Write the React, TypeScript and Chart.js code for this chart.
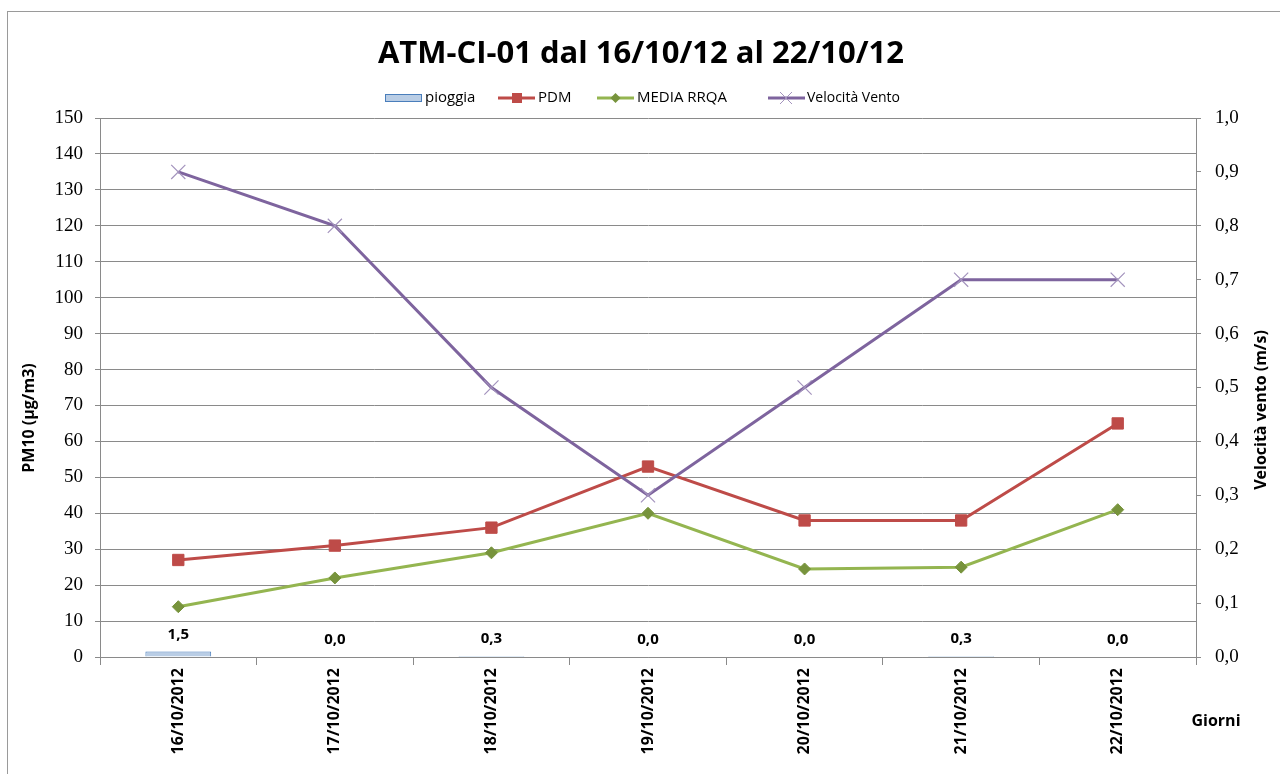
import React, { useEffect, useRef } from "react";
import { Chart, registerables } from "chart.js";

Chart.register(...registerables);

const giorni = [
  "16/10/2012",
  "17/10/2012",
  "18/10/2012",
  "19/10/2012",
  "20/10/2012",
  "21/10/2012",
  "22/10/2012",
];
const pioggia = [1.5, 0.0, 0.3, 0.0, 0.0, 0.3, 0.0];
const pdm = [27, 31, 36, 53, 38, 38, 65];
const mediaRrqa = [14, 22, 29, 40, 24.5, 25, 41];
const velocitaVento = [0.9, 0.8, 0.5, 0.3, 0.5, 0.7, 0.7];

const titolo = "ATM-CI-01 dal 16/10/12 al 22/10/12";

const SANS = "'Open Sans', Lato, sans-serif";
const SERIF = "'Liberation Serif', 'DejaVu Serif', serif";
const GRID = "#8a8a8a";

const C_BAR_FILL = "#b9cde5";
const C_BAR_LINE = "#4a7ebb";
const C_PDM = "#be4b48";
const C_RRQA = "#94b550";
const C_RRQA_PT = "#77933c";
const C_VENTO = "#7e649e";
const C_VENTO_PT = "#a393bd";

const fmt = (v: number) => v.toFixed(1).replace(".", ",");

// Draws title, legend, frame, axis titles and the rain value labels.
const decorPlugin = {
  id: "decor",
  afterDraw(chart: any) {
    const ctx: CanvasRenderingContext2D = chart.ctx;
    ctx.save();

    // outer frame
    ctx.strokeStyle = "#9a9a9a";
    ctx.lineWidth = 1;
    ctx.strokeRect(7.5, 11.5, 1400, 900);

    // title
    ctx.fillStyle = "#000";
    ctx.font = `bold 31px ${SANS}`;
    ctx.textAlign = "center";
    ctx.textBaseline = "alphabetic";
    ctx.fillText(titolo, 641, 63);

    // legend
    const ly = 98;
    ctx.font = `15px ${SANS}`;
    ctx.textAlign = "left";
    ctx.textBaseline = "middle";
    // pioggia
    ctx.fillStyle = C_BAR_FILL;
    ctx.fillRect(385, ly - 4, 37, 8);
    ctx.strokeStyle = C_BAR_LINE;
    ctx.lineWidth = 1;
    ctx.strokeRect(385.5, ly - 3.5, 36, 7);
    ctx.fillStyle = "#000";
    ctx.fillText("pioggia", 425, ly);

    const legLine = (x1: number, color: string) => {
      ctx.strokeStyle = color;
      ctx.lineWidth = 3;
      ctx.beginPath();
      ctx.moveTo(x1, ly);
      ctx.lineTo(x1 + 37, ly);
      ctx.stroke();
    };
    // PDM
    legLine(498, C_PDM);
    ctx.fillStyle = C_PDM;
    ctx.fillRect(512, ly - 5, 10, 10);
    ctx.fillStyle = "#000";
    ctx.fillText("PDM", 538, ly);
    // MEDIA RRQA
    legLine(597, C_RRQA);
    ctx.fillStyle = C_RRQA_PT;
    ctx.beginPath();
    ctx.moveTo(615.5, ly - 5);
    ctx.lineTo(620.5, ly);
    ctx.lineTo(615.5, ly + 5);
    ctx.lineTo(610.5, ly);
    ctx.closePath();
    ctx.fill();
    ctx.fillStyle = "#000";
    ctx.fillText("MEDIA RRQA", 637, ly);
    // Velocità Vento
    legLine(768, C_VENTO);
    ctx.strokeStyle = C_VENTO_PT;
    ctx.lineWidth = 1;
    ctx.beginPath();
    ctx.moveTo(780, ly - 6);
    ctx.lineTo(792, ly + 6);
    ctx.moveTo(792, ly - 6);
    ctx.lineTo(780, ly + 6);
    ctx.stroke();
    ctx.fillStyle = "#000";
    ctx.font = `14px ${SANS}`;
    ctx.fillText("Velocità Vento", 807, ly);

    // axis titles
    ctx.font = `bold 16px ${SANS}`;
    ctx.textAlign = "center";
    ctx.textBaseline = "middle";
    ctx.save();
    ctx.translate(29, 418);
    ctx.rotate(-Math.PI / 2);
    ctx.fillText("PM10 (µg/m3)", 0, 0);
    ctx.restore();
    ctx.save();
    ctx.translate(1261, 410);
    ctx.rotate(-Math.PI / 2);
    ctx.fillText("Velocità vento (m/s)", 0, 0);
    ctx.restore();
    ctx.fillText("Giorni", 1216, 721);

    // rain value labels above the bars
    const meta = chart.getDatasetMeta(0);
    ctx.font = `bold 15px ${SANS}`;
    meta.data.forEach((el: any, i: number) => {
      ctx.fillText(fmt(pioggia[i]), el.x, el.y - 17);
    });

    ctx.restore();
  },
};

export default function App() {
  const ref = useRef<HTMLCanvasElement | null>(null);

  useEffect(() => {
    if (!ref.current) return;
    const chart = new Chart(ref.current, {
      type: "bar",
      data: {
        labels: giorni,
        datasets: [
          {
            type: "bar",
            label: "pioggia",
            data: pioggia,
            yAxisID: "y",
            backgroundColor: C_BAR_FILL,
            borderColor: C_BAR_LINE,
            borderWidth: 1,
            barPercentage: 0.42,
            categoryPercentage: 1,
            order: 4,
          },
          {
            type: "line",
            label: "PDM",
            data: pdm,
            yAxisID: "y",
            borderColor: C_PDM,
            borderWidth: 3,
            pointStyle: "rect",
            pointRadius: 8,
            pointBackgroundColor: C_PDM,
            pointBorderColor: C_PDM,
            pointBorderWidth: 1,
            tension: 0,
            order: 3,
          },
          {
            type: "line",
            label: "MEDIA RRQA",
            data: mediaRrqa,
            yAxisID: "y",
            borderColor: C_RRQA,
            borderWidth: 3,
            pointStyle: "rectRot",
            pointRadius: 6,
            pointBackgroundColor: C_RRQA_PT,
            pointBorderColor: C_RRQA_PT,
            pointBorderWidth: 1,
            tension: 0,
            order: 2,
          },
          {
            type: "line",
            label: "Velocità Vento",
            data: velocitaVento,
            yAxisID: "y1",
            borderColor: C_VENTO,
            borderWidth: 3,
            pointStyle: "crossRot",
            pointRadius: 10,
            pointBorderColor: C_VENTO_PT,
            pointBorderWidth: 1.2,
            tension: 0,
            order: 1,
          },
        ],
      },
      options: {
        responsive: false,
        animation: false,
        layout: { padding: { top: 118, left: 0, right: 0, bottom: 0 } },
        plugins: {
          legend: { display: false },
          title: { display: false },
          tooltip: { enabled: false },
        },
        scales: {
          x: {
            type: "category",
            offset: true,
            grid: {
              display: true,
              offset: true,
              drawOnChartArea: false,
              drawTicks: true,
              tickLength: 8,
              color: GRID,
            },
            border: { display: true, color: GRID },
            ticks: {
              minRotation: 90,
              maxRotation: 90,
              padding: 3,
              color: "#000",
              font: { family: SANS, size: 16, weight: "bold" },
            },
            afterFit(scale: any) {
              scale.height = 117;
            },
          },
          y: {
            position: "left",
            min: 0,
            max: 150,
            ticks: {
              stepSize: 10,
              padding: 12,
              color: "#000",
              font: { family: SERIF, size: 19 },
            },
            grid: { color: GRID, tickLength: 5, lineWidth: 1 },
            border: { display: true, color: GRID },
            afterFit(scale: any) {
              scale.width = 100;
            },
          },
          y1: {
            position: "right",
            min: 0,
            max: 1,
            ticks: {
              stepSize: 0.1,
              padding: 14,
              color: "#000",
              font: { family: SERIF, size: 19 },
              callback: (v: any) => fmt(Number(v)),
            },
            grid: { drawOnChartArea: false, color: GRID, tickLength: 5 },
            border: { display: true, color: GRID },
            afterFit(scale: any) {
              scale.width = 84;
            },
          },
        },
      },
      plugins: [decorPlugin],
    } as any);
    return () => chart.destroy();
  }, []);

  return (
    <div
      style={{
        position: "absolute",
        left: 0,
        top: 0,
        width: 1280,
        height: 774,
        background: "#fff",
        overflow: "hidden",
      }}
    >
      <canvas ref={ref} width={1280} height={774} style={{ display: "block" }} />
    </div>
  );
}
